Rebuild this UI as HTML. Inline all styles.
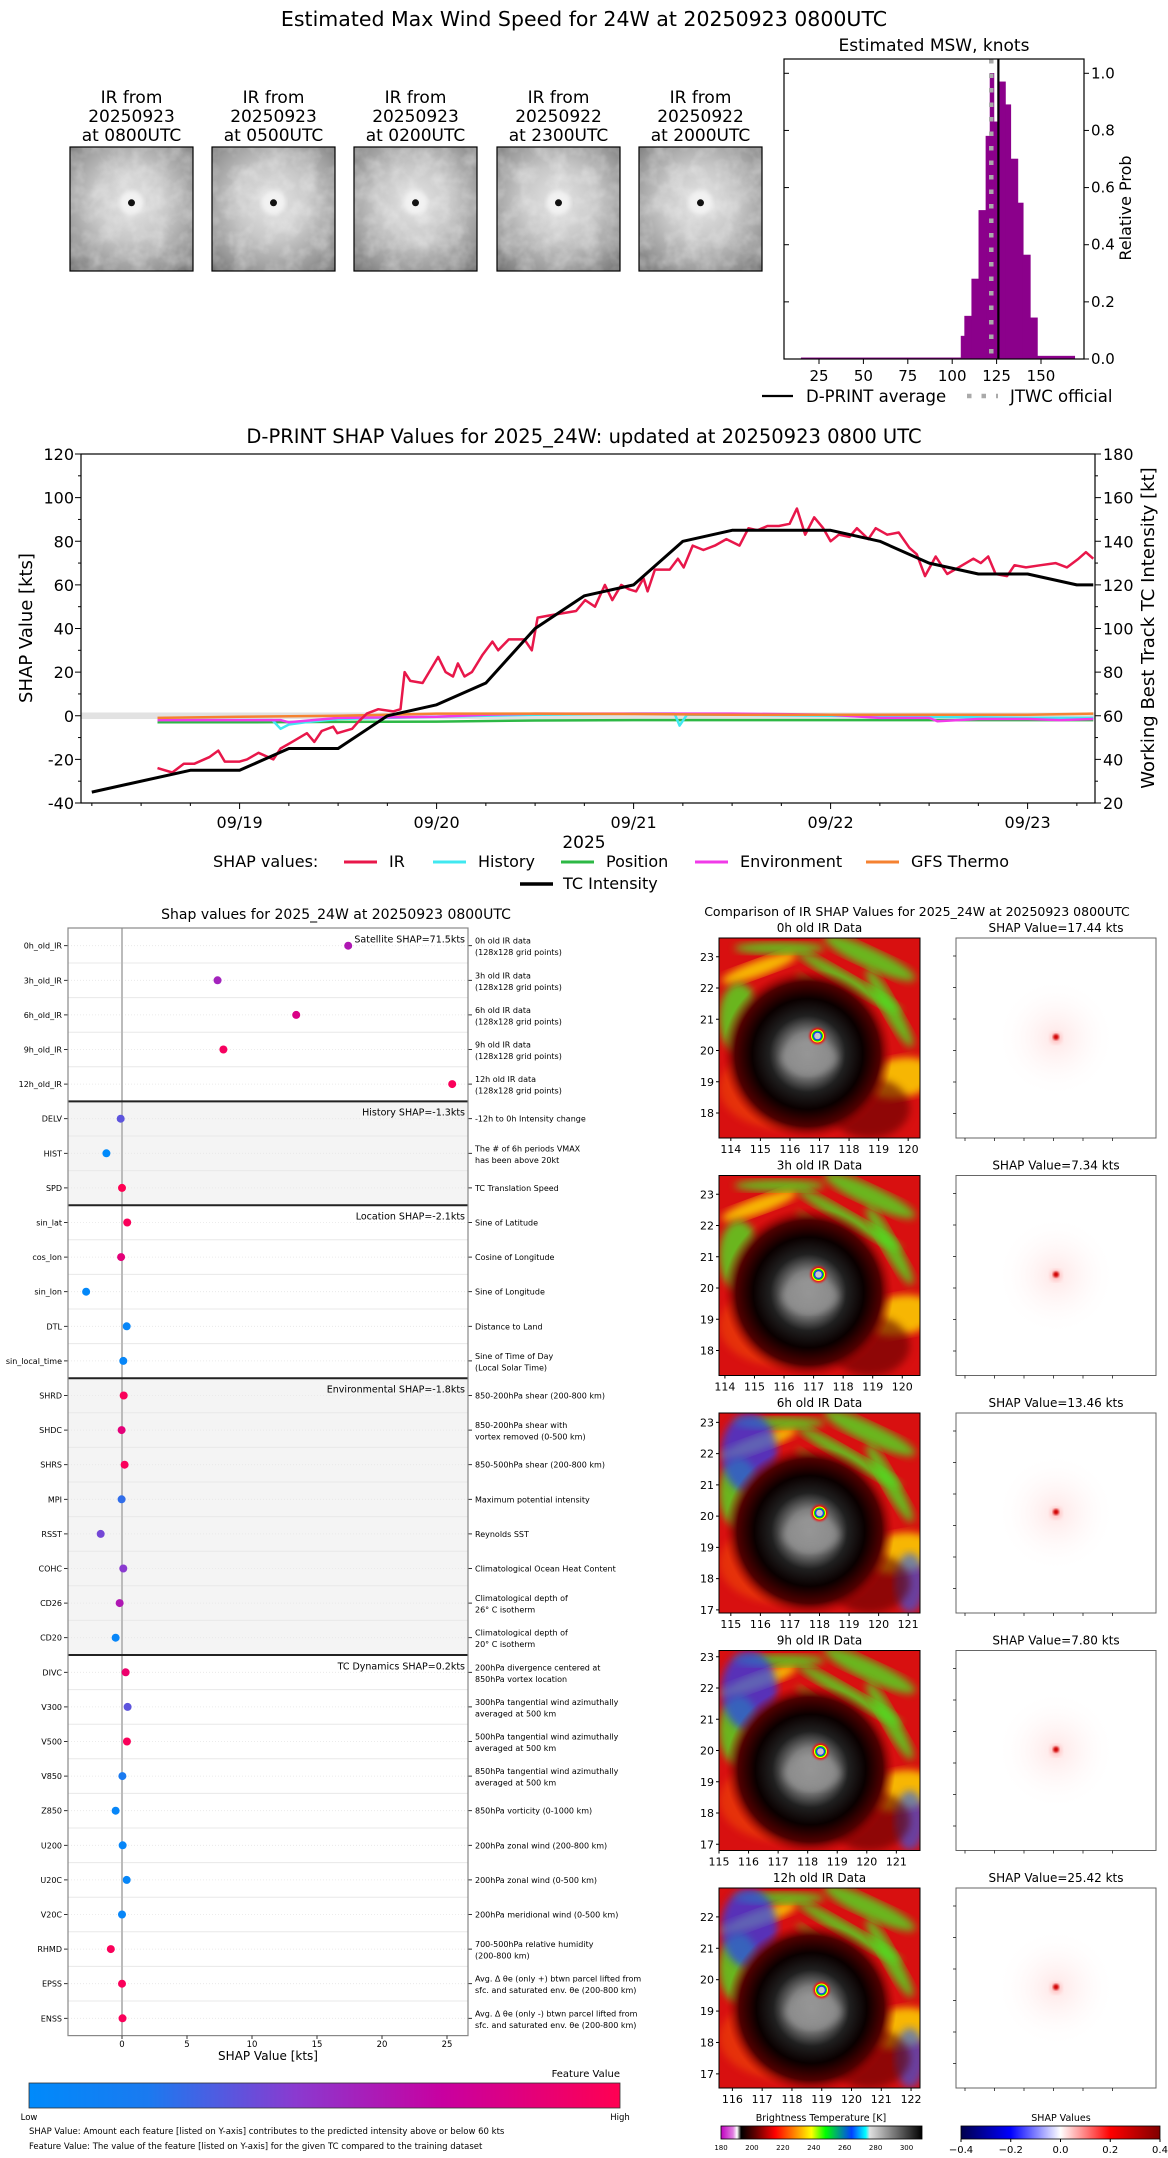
<!DOCTYPE html>
<html><head><meta charset="utf-8">
<style>
html,body{margin:0;padding:0;background:#fff;}
svg{display:block;font-family:"DejaVu Sans","Liberation Sans",sans-serif;}
</style></head>
<body>
<svg id="root" width="1168" height="2158" viewBox="0 0 1168 2158" xmlns="http://www.w3.org/2000/svg">
<defs>
 <linearGradient id="featGrad" x1="0" x2="1" y1="0" y2="0">
  <stop offset="0" stop-color="#008afb"/><stop offset="0.2" stop-color="#1a7af0"/>
  <stop offset="0.45" stop-color="#8a3ad0"/><stop offset="0.7" stop-color="#c800a0"/>
  <stop offset="1" stop-color="#ff0052"/>
 </linearGradient>
 <linearGradient id="btGrad" x1="0" x2="1" y1="0" y2="0">
  <stop offset="0" stop-color="#c000c0"/><stop offset="0.06" stop-color="#e080e0"/>
  <stop offset="0.08" stop-color="#ffffff"/><stop offset="0.1" stop-color="#000000"/>
  <stop offset="0.17" stop-color="#600000"/><stop offset="0.27" stop-color="#ff0000"/>
  <stop offset="0.38" stop-color="#ff9900"/><stop offset="0.45" stop-color="#ffff00"/>
  <stop offset="0.52" stop-color="#00ff00"/><stop offset="0.65" stop-color="#0040ff"/>
  <stop offset="0.72" stop-color="#00ffff"/><stop offset="0.74" stop-color="#e0e0e0"/>
  <stop offset="1" stop-color="#000000"/>
 </linearGradient>
 <linearGradient id="shapGrad" x1="0" x2="1" y1="0" y2="0">
  <stop offset="0" stop-color="#00004c"/><stop offset="0.25" stop-color="#0000ff"/>
  <stop offset="0.5" stop-color="#ffffff"/><stop offset="0.75" stop-color="#ff0000"/>
  <stop offset="1" stop-color="#800000"/>
 </linearGradient>
 <radialGradient id="thumbGrad" cx="0.5" cy="0.45" r="0.75">
  <stop offset="0" stop-color="#e4e4e4"/><stop offset="0.4" stop-color="#c8c8c8"/>
  <stop offset="0.75" stop-color="#9a9a9a"/><stop offset="1" stop-color="#6e6e6e"/>
 </radialGradient>
 <radialGradient id="coreGrad" cx="0.5" cy="0.5" r="0.5">
  <stop offset="0" stop-color="#b0b0b0"/><stop offset="0.25" stop-color="#808080"/>
  <stop offset="0.45" stop-color="#202020"/><stop offset="0.65" stop-color="#0a0000"/>
  <stop offset="0.85" stop-color="#500000"/><stop offset="1" stop-color="#b00000" stop-opacity="0"/>
 </radialGradient>
 <radialGradient id="shapSpot" cx="0.5" cy="0.5" r="0.5">
  <stop offset="0" stop-color="#ffe6e6"/><stop offset="1" stop-color="#ffffff" stop-opacity="0"/>
 </radialGradient>
 <filter id="blur4"><feGaussianBlur stdDeviation="4"/></filter>
 <filter id="blur2"><feGaussianBlur stdDeviation="2"/></filter>
 <filter id="blur1"><feGaussianBlur stdDeviation="1"/></filter>
 <filter id="cloudTex" x="0" y="0" width="1" height="1">
  <feTurbulence type="fractalNoise" baseFrequency="0.06" numOctaves="3" seed="4"/>
  <feColorMatrix type="matrix" values="0 0 0 0 1  0 0 0 0 1  0 0 0 0 1  1.2 0 0 0 -0.45"/>
 </filter>
</defs>
</svg>
<script>
// ---------- DATA ----------
const histEdges = [15,105,107,111,115,119,121.3,123.5,126.4,130,133,137,140,144,148,169];
const histProbs = [0.004,0.08,0.15,0.28,0.52,0.78,1.0,0.83,0.97,0.89,0.70,0.546,0.364,0.144,0.01];
const dprintMean = 126;
const jtwcOfficial = 122;

const irTimes = [-10,-8.2,-6.8,-5.5,-3.7,-2.6,-1.8,0,0.9,2.3,4.1,5,6.4,8.2,9.1,10,11.4,11.9,13.7,14.4,15.5,16.9,18.7,19.6,20.1,20.8,22.3,24.2,25.1,26,26.6,27.4,28.3,29.6,30.8,31.5,32.8,34.7,35.6,36.3,37.8,41,42.1,43.3,44.5,45.4,46.5,47.4,48.3,49.2,49.7,50.6,52.4,53.4,54.1,55.2,56.5,57.9,59.3,60.9,62,63.1,64.3,65.7,67,67.9,68.9,70,71.1,72,73,74.3,75.2,76.6,77.5,78.9,80.3,81.6,82.5,83.5,84.8,86.2,87.6,89.4,90.3,91.2,92.1,93.5,94.4,95.8,97.6,99.4,100.8,102.2,103.1,104];
const irVals = [-24,-26,-22,-22,-19,-16,-21,-21,-20,-17,-20,-15,-12,-8,-12,-7,-5,-8,-6,-3,1,3,2,3,20,16,15,27,20,18,24,18,20,28,34,30,35,35,30,45,46,48,53,50,60,53,60,58,57,63,57,67,67,72,68,78,76,78,81,78,86,85,87,87,88,95,83,91,86,80,83,82,86,81,86,83,84,77,74,64,73,65,68,72,70,73,65,64,69,68,69,70,68,72,75,72];
const historyTimes = [-10,0,4,5,6,8,12,24,36,48,53,53.6,54.5,60,72,84,96,104];
const historyVals = [-2,-2,-2,-6,-4,-3,-1.5,-0.5,0.5,1,1,-4.5,0.5,0.5,0,-0.5,-1,-1];
const positionTimes = [-10,0,12,24,36,48,60,72,84,96,104];
const positionVals = [-3,-3,-2.8,-2.7,-2.2,-2,-2,-2,-2,-2,-2];
const environmentTimes = [-10,0,5,6,12,24,30,36,48,60,72,78,84,85,90,96,100,104];
const environmentVals = [-2,-2,-2,-3,-1,-0.5,0.5,1,1,1,0.5,-1,-1,-2.5,-1.5,-1.5,-2,-1.5];
const gfsTimes = [-10,0,12,24,36,48,60,72,84,96,104];
const gfsVals = [-1,-0.5,0,1,1,0.8,0.5,0.5,0.5,0.5,1];
const tcTimes = [-18,-6,0,6,12,18,24,30,36,42,48,54,60,66,72,78,84,90,96,102,104];
const tcVals = [25,35,35,45,45,60,65,75,100,115,120,140,145,145,145,140,130,125,125,120,120];
const dateLabels = ['09/19','09/20','09/21','09/22','09/23'];

const featureNames = ['0h_old_IR','3h_old_IR','6h_old_IR','9h_old_IR','12h_old_IR','DELV','HIST','SPD','sin_lat','cos_lon','sin_lon','DTL','sin_local_time','SHRD','SHDC','SHRS','MPI','RSST','COHC','CD26','CD20','DIVC','V300','V500','V850','Z850','U200','U20C','V20C','RHMD','EPSS','ENSS'];
const featureShap = [17.4,7.35,13.4,7.8,25.4,-0.1,-1.2,0.0,0.4,-0.07,-2.76,0.36,0.1,0.13,-0.03,0.2,-0.03,-1.64,0.1,-0.18,-0.49,0.28,0.43,0.38,0.03,-0.49,0.05,0.36,0.0,-0.86,0.0,0.04];
const featureVals = [0.6,0.55,0.8,0.95,0.97,0.35,0.0,1.0,0.97,0.85,0.03,0.05,0.05,0.97,0.85,0.97,0.25,0.4,0.45,0.6,0.05,0.9,0.35,0.97,0.2,0.05,0.05,0.05,0.05,0.97,0.97,0.97];
const featureDesc = [
 ['0h old IR data','(128x128 grid points)'],['3h old IR data','(128x128 grid points)'],['6h old IR data','(128x128 grid points)'],['9h old IR data','(128x128 grid points)'],['12h old IR data','(128x128 grid points)'],
 ['-12h to 0h Intensity change'],['The # of 6h periods VMAX','has been above 20kt'],['TC Translation Speed'],
 ['Sine of Latitude'],['Cosine of Longitude'],['Sine of Longitude'],['Distance to Land'],['Sine of Time of Day','(Local Solar Time)'],
 ['850-200hPa shear (200-800 km)'],['850-200hPa shear with','vortex removed (0-500 km)'],['850-500hPa shear (200-800 km)'],['Maximum potential intensity'],['Reynolds SST'],['Climatological Ocean Heat Content'],['Climatological depth of','26° C isotherm'],['Climatological depth of','20° C isotherm'],
 ['200hPa divergence centered at','850hPa vortex location'],['300hPa tangential wind azimuthally','averaged at 500 km'],['500hPa tangential wind azimuthally','averaged at 500 km'],['850hPa tangential wind azimuthally','averaged at 500 km'],['850hPa vorticity (0-1000 km)'],['200hPa zonal wind (200-800 km)'],['200hPa zonal wind (0-500 km)'],['200hPa meridional wind (0-500 km)'],['700-500hPa relative humidity','(200-800 km)'],
 ['Avg. Δ θe (only +) btwn parcel lifted from','sfc. and saturated env. θe (200-800 km)'],['Avg. Δ θe (only -) btwn parcel lifted from','sfc. and saturated env. θe (200-800 km)']];
const groupStarts = [0,5,8,13,21,32];
const groupLabels = ['Satellite SHAP=71.5kts','History SHAP=-1.3kts','Location SHAP=-2.1kts','Environmental SHAP=-1.8kts','TC Dynamics SHAP=0.2kts'];
const shapTicks = [0,5,10,15,20,25];

const thumbLabels = [['IR from','20250923','at 0800UTC'],['IR from','20250923','at 0500UTC'],['IR from','20250923','at 0200UTC'],['IR from','20250922','at 2300UTC'],['IR from','20250922','at 2000UTC']];
const irPanelTitles = ['0h old IR Data','3h old IR Data','6h old IR Data','9h old IR Data','12h old IR Data'];
const irPanelShap = ['17.44','7.34','13.46','7.80','25.42'];
const panelLat = [[17.2,23.6],[17.2,23.6],[16.9,23.3],[16.8,23.2],[16.55,22.92]];
const panelLon = [[113.6,120.4],[113.8,120.6],[114.6,121.4],[115.0,121.8],[115.55,122.3]];
const btTicks = [180,200,220,240,260,280,300];
const shapCbTicks = ['−0.4','−0.2','0.0','0.2','0.4'];

// ---------- HELPERS ----------
const NS='http://www.w3.org/2000/svg';
const root=document.getElementById('root');
function mk(tag,attrs,parent){const e=document.createElementNS(NS,tag);for(const k in attrs)e.setAttribute(k,attrs[k]);(parent||root).appendChild(e);return e;}
function txt(s,x,y,size,anchor,parent,extra){const e=mk('text',Object.assign({x:x,y:y,'font-size':size,'text-anchor':anchor||'start',fill:'#000'},extra||{}),parent);e.textContent=s;return e;}
function grp(parent){return mk('g',{},parent);}

// ---------- TOP TITLE ----------
let t=txt('Estimated Max Wind Speed for 24W at 20250923 0800UTC',584,26,20.5,'middle');



// ---------- THUMBNAILS ----------
const thumbX=[70,212,354,497,639];
for(let i=0;i<5;i++){
 const g=grp();
 
 
 const x=thumbX[i],y=147,w=123,h=124;
 mk('rect',{x:x,y:y,width:w,height:h,fill:'url(#thumbGrad)'},g);
 mk('rect',{x:x,y:y,width:w,height:h,filter:'url(#cloudTex)',opacity:0.55},g);
 mk('circle',{cx:x+w*0.5,cy:y+h*0.45,r:12,fill:'#f2f2f2',filter:'url(#blur2)'},g);
 mk('circle',{cx:x+w*0.5,cy:y+h*0.45,r:3.5,fill:'#111'},g);
 mk('rect',{x:x,y:y,width:w,height:h,fill:'none',stroke:'#000','stroke-width':1.2},g);
 for(let j=0;j<3;j++){txt(thumbLabels[i][j],x+w/2,103+j*19,17,'middle',g);}
}

// ---------- HISTOGRAM ----------
const hx=k=>774.6+1.776*k, hy=p=>359-285.7*p;
const hg=grp();


for(let i=0;i<histProbs.length;i++){
 const b=mk('rect',{x:hx(histEdges[i]),y:hy(histProbs[i]),width:hx(histEdges[i+1])-hx(histEdges[i]),height:hy(0)-hy(histProbs[i]),fill:'#8b008b',stroke:'#8b008b','stroke-width':0.6},hg);
 
 
}
let jl=mk('line',{x1:hx(jtwcOfficial),x2:hx(jtwcOfficial),y1:59,y2:359,stroke:'#aaa','stroke-width':4.5,'stroke-dasharray':'4.5 10'},hg);


let ml=mk('line',{x1:hx(dprintMean),x2:hx(dprintMean),y1:59,y2:359,stroke:'#000','stroke-width':2.2},hg);


mk('rect',{x:784,y:59,width:300,height:300,fill:'none',stroke:'#000','stroke-width':1.2},hg);
for(let k=25;k<=150;k+=25){mk('line',{x1:hx(k),x2:hx(k),y1:359,y2:364,stroke:'#000'},hg);txt(String(k),hx(k),381,15,'middle',hg);}
for(let p=0;p<=1.001;p+=0.2){const yy=hy(p);mk('line',{x1:1084,x2:1089,y1:yy,y2:yy,stroke:'#000'},hg);mk('line',{x1:784,x2:789,y1:yy,y2:yy,stroke:'#000'},hg);txt(p.toFixed(1),1091,yy+5,15,'start',hg);}
txt('Estimated MSW, knots',934,51,17,'middle',hg);
txt('Relative Prob',1131,208,16,'middle',hg,{transform:'rotate(-90 1131 208)'});
const hl=grp();


mk('line',{x1:762,x2:793,y1:396,y2:396,stroke:'#000','stroke-width':2.2},hl);
txt('D-PRINT average',806,402,16.5,'start',hl);
mk('line',{x1:967,x2:998,y1:396,y2:396,stroke:'#aaa','stroke-width':4.5,'stroke-dasharray':'4.5 10'},hl);
txt('JTWC official',1010,402,16.5,'start',hl);

// ---------- TIME SERIES ----------
const X=h=>239.6+h*197/24, YL=v=>803-(v+40)*349/160;
const tg=grp();


txt('D-PRINT SHAP Values for 2025_24W: updated at 20250923 0800 UTC',584,443,19.5,'middle',tg);
mk('rect',{x:81,y:YL(1.5),width:1014,height:YL(-1.5)-YL(1.5),fill:'#e2e2e2'},tg);
function series(ts,vs,off,color,w,name){
 let d='';for(let i=0;i<ts.length;i++){d+=(i?'L':'M')+X(ts[i]).toFixed(1)+','+YL(vs[i]-off).toFixed(1);}
 const p=mk('path',{d:d,fill:'none',stroke:color,'stroke-width':w,'stroke-linejoin':'round'},tg);
 
 
}
series(positionTimes,positionVals,0,'#2db845',2.5,'position-line');
series(historyTimes,historyVals,0,'#40e8f0',2.5,'history-line');
series(environmentTimes,environmentVals,0,'#f03ae8',2.5,'environment-line');
series(gfsTimes,gfsVals,0,'#f58231',2.5,'gfs-thermo-line');
series(irTimes,irVals,0,'#e8174a',2.5,'ir-line');
series(tcTimes,tcVals,60,'#000',3,'tc-intensity-line');
mk('rect',{x:81,y:454,width:1014,height:349,fill:'none',stroke:'#000','stroke-width':1.2},tg);
for(let v=-40;v<=120;v+=10){const yy=YL(v);const major=v%20===0;mk('line',{x1:81-(major?6:3),x2:81,y1:yy,y2:yy,stroke:'#000'},tg);if(major)txt(String(v),74,yy+6,16,'end',tg);}
for(let k=20;k<=180;k+=10){const yy=YL(k-60);const major=k%20===0;mk('line',{x1:1095,x2:1095+(major?6:3),y1:yy,y2:yy,stroke:'#000'},tg);if(major)txt(String(k),1103,yy+6,16,'start',tg);}
for(let h=-18;h<=102;h+=6){const xx=X(h);const major=h%24===0;mk('line',{x1:xx,x2:xx,y1:803,y2:803+(major?6:3),stroke:'#000'},tg);}
for(let i=0;i<dateLabels.length;i++){txt(dateLabels[i],X(i*24),828,16,'middle',tg);}
txt('2025',584,848,17,'middle',tg);
txt('SHAP Value [kts]',32,628,18,'middle',tg,{transform:'rotate(-90 32 628)'});
txt('Working Best Track TC Intensity [kt]',1154,628,18,'middle',tg,{transform:'rotate(-90 1154 628)'});
const lg=grp(tg);


txt('SHAP values:',213,867,16,'start',lg);
const legItems=[['IR','#e8174a',344],['History','#40e8f0',433],['Position','#2db845',561],['Environment','#f03ae8',695],['GFS Thermo','#f58231',866]];
for(const it of legItems){mk('line',{x1:it[2],x2:it[2]+33,y1:862,y2:862,stroke:it[1],'stroke-width':3},lg);txt(it[0],it[2]+45,867,16,'start',lg);}
mk('line',{x1:520,x2:553,y1:884,y2:884,stroke:'#000','stroke-width':3.5},lg);
txt('TC Intensity',563,889,16,'start',lg);

// ---------- SHAP BEESWARM ----------
const SX=v=>122+v*13, RY=i=>945.7+34.6*i;
function featColor(f){
 const stops=[[0,[0,138,251]],[0.2,[26,122,240]],[0.45,[138,58,208]],[0.7,[200,0,160]],[1,[255,0,82]]];
 for(let i=0;i<stops.length-1;i++){if(f<=stops[i+1][0]){const a=stops[i],b=stops[i+1];const u=(f-a[0])/(b[0]-a[0]);return 'rgb('+a[1].map((c,j)=>Math.round(c+(b[1][j]-c)*u)).join(',')+')';}}
 return 'rgb(255,0,82)';
}
const bg=grp();


txt('Shap values for 2025_24W at 20250923 0800UTC',336,919,14,'middle',bg);
for(let g=0;g<5;g++){
 const y0=RY(groupStarts[g])-17.3,y1=RY(groupStarts[g+1])-17.3;
 const r=mk('rect',{x:68,y:y0,width:400,height:y1-y0,fill:(g%2===1)?'#f4f4f4':'#fff'},bg);
 
 
}
for(let i=0;i<featureNames.length;i++){
 const yy=RY(i);
 mk('line',{x1:68,x2:468,y1:yy,y2:yy,stroke:'#e6e6e6','stroke-width':0.8,'stroke-dasharray':'1 2'},bg);
 if(i>0)mk('line',{x1:68,x2:468,y1:yy-17.3,y2:yy-17.3,stroke:'#e8e8e8','stroke-width':1},bg);
}
mk('line',{x1:SX(0),x2:SX(0),y1:928,y2:2035.6,stroke:'#bbb','stroke-width':2},bg);
for(let g=1;g<5;g++){const yy=RY(groupStarts[g])-17.3;mk('line',{x1:68,x2:468,y1:yy,y2:yy,stroke:'#222','stroke-width':2},bg);}
for(let g=0;g<5;g++){txt(groupLabels[g],465,RY(groupStarts[g])-3,9.5,'end',bg);}
for(let i=0;i<featureNames.length;i++){
 const yy=RY(i);
 const d=mk('circle',{cx:SX(featureShap[i]),cy:yy,r:4,fill:featColor(featureVals[i])},bg);
 
 
 txt(featureNames[i],62,yy+3,8,'end',bg);
 mk('line',{x1:64,x2:68,y1:yy,y2:yy,stroke:'#000','stroke-width':0.8},bg);
 mk('line',{x1:468,x2:472,y1:yy,y2:yy,stroke:'#000','stroke-width':0.8},bg);
 const ds=featureDesc[i];
 if(ds.length===1)txt(ds[0],475,yy+3,8,'start',bg);
 else{txt(ds[0],475,yy-2,8,'start',bg);txt(ds[1],475,yy+9.5,8,'start',bg);}
}
mk('rect',{x:68,y:928,width:400,height:1107.6,fill:'none',stroke:'#888','stroke-width':1.2},bg);
for(const tk of shapTicks){mk('line',{x1:SX(tk),x2:SX(tk),y1:2035.6,y2:2039,stroke:'#000','stroke-width':0.8},bg);txt(String(tk),SX(tk),2047,8.5,'middle',bg);}
txt('SHAP Value [kts]',268,2060,12,'middle',bg);
const fc=grp();


mk('rect',{x:29,y:2083,width:591,height:25,fill:'url(#featGrad)',stroke:'#333','stroke-width':0.8},fc);
txt('Feature Value',620,2077,10,'end',fc);
txt('Low',29,2120,8.5,'middle',fc);
txt('High',620,2120,8.5,'middle',fc);
txt('SHAP Value: Amount each feature [listed on Y-axis] contributes to the predicted intensity above or below 60 kts',29,2134,8.5,'start',fc);
txt('Feature Value: The value of the feature [listed on Y-axis] for the given TC compared to the training dataset',29,2149,8.5,'start',fc);

// ---------- IR PANELS ----------
const pg=grp();


txt('Comparison of IR SHAP Values for 2025_24W at 20250923 0800UTC',917,916,12.5,'middle',pg);
const panelTop=[938,1175.5,1413,1650.5,1888];
for(let i=0;i<5;i++){
 const x=719,y=panelTop[i],w=201,h=200;
 const g=grp(pg);
 
 
 mk('clipPath',{id:'clip'+i},g);
 const cp=g.lastChild; mk('rect',{x:x,y:y,width:w,height:h},cp);
 const ig=mk('g',{'clip-path':'url(#clip'+i+')'},g);
 mk('rect',{x:x,y:y,width:w,height:h,fill:'#d81010'},ig);
 const ex=x+w*(0.49+i*0.005),ey=y+h*(0.49+i*0.005);
 const greens=[[0.75,0.1,50,10,25],[0.85,0.35,45,8,60],[0.2,0.15,40,8,-20],[0.1,0.4,20,35,0],[0.65,0.22,60,7,30],[0.9,0.7,20,35,80],[0.3,0.05,45,6,0],[0.55,0.3,40,5,35]];
 for(let k=0;k<greens.length;k++){const gg=greens[k];const cx=x+w*gg[0],cy=y+h*gg[1];mk('ellipse',{cx:cx,cy:cy,rx:gg[2],ry:gg[3],fill:(k%3===2)?'#ffe000':'#50e020',opacity:0.8,filter:'url(#blur4)',transform:'rotate('+(gg[4])+' '+cx+' '+cy+')'},ig);}
 if(i>=2){mk('ellipse',{cx:x+w*0.15,cy:y+h*0.2,rx:28,ry:40,fill:'#2040ff',opacity:0.7,filter:'url(#blur4)'},ig);mk('ellipse',{cx:x+w*0.95,cy:y+h*0.85,rx:15,ry:30,fill:'#2060ff',opacity:0.6,filter:'url(#blur4)'},ig);}
 mk('ellipse',{cx:x+w*0.3,cy:y+h*0.75,rx:60,ry:40,fill:'#ff7000',opacity:0.35,filter:'url(#blur4)'},ig);
 mk('ellipse',{cx:x+w*0.75,cy:y+h*0.85,rx:40,ry:30,fill:'#600000',opacity:0.6,filter:'url(#blur4)'},ig);
 mk('circle',{cx:ex-10,cy:ey+18,r:85,fill:'url(#coreGrad)'},ig);
 mk('ellipse',{cx:ex-8,cy:ey+22,rx:28,ry:16,fill:'#909090',opacity:0.8,filter:'url(#blur4)'},ig);
 mk('circle',{cx:ex,cy:ey,r:8,fill:'#ff0000',filter:'url(#blur1)'},ig);
 mk('circle',{cx:ex,cy:ey,r:6.5,fill:'#ffff00'},ig);
 mk('circle',{cx:ex,cy:ey,r:5.5,fill:'#00e000'},ig);
 mk('circle',{cx:ex,cy:ey,r:4.5,fill:'#1030ff'},ig);
 mk('circle',{cx:ex,cy:ey,r:3.3,fill:'#c8c8c8'},ig);
 mk('rect',{x:x,y:y,width:w,height:h,fill:'none',stroke:'#000','stroke-width':1},g);
 txt(irPanelTitles[i],x+w/2,y-6,12,'middle',g);
 const la=panelLat[i],lo=panelLon[i];
 for(let v=Math.ceil(la[0]);v<=la[1];v++){const yy=y+h*(la[1]-v)/(la[1]-la[0]);mk('line',{x1:x-3,x2:x,y1:yy,y2:yy,stroke:'#000'},g);txt(String(v),x-5,yy+4,11,'end',g);}
 for(let v=Math.ceil(lo[0]);v<=lo[1];v++){const xx=x+w*(v-lo[0])/(lo[1]-lo[0]);mk('line',{x1:xx,x2:xx,y1:y+h,y2:y+h+3,stroke:'#000'},g);txt(String(v),xx,y+h+15,11,'middle',g);}
 // shap map
 const sx=956,sg=grp(pg);
 
 
 mk('rect',{x:sx,y:y,width:h,height:h,fill:'#fff'},sg);
 mk('circle',{cx:sx+100,cy:y+100,r:60,fill:'url(#shapSpot)'},sg);
 mk('circle',{cx:sx+100,cy:y+100,r:6,fill:'#ffc8c8',filter:'url(#blur2)'},sg);
 mk('circle',{cx:sx+100,cy:y+99,r:3,fill:'#d00000',filter:'url(#blur1)'},sg);
 mk('rect',{x:sx,y:y,width:h,height:h,fill:'none',stroke:'#666','stroke-width':1},sg);
 txt('SHAP Value='+irPanelShap[i]+' kts',sx+100,y-6,12,'middle',sg);
 for(let k=0;k<6;k++){mk('line',{x1:sx-3,x2:sx,y1:y+18+k*31.5,y2:y+18+k*31.5,stroke:'#000','stroke-width':0.7},sg);mk('line',{x1:sx+9+k*29.5,x2:sx+9+k*29.5,y1:y+h,y2:y+h+3,stroke:'#000','stroke-width':0.7},sg);}
}
// colorbars
const bc=grp(pg);


mk('rect',{x:721,y:2126,width:201,height:13,fill:'url(#btGrad)',stroke:'#000','stroke-width':0.8},bc);
txt('Brightness Temperature [K]',821,2121,9.5,'middle',bc);
for(const v of btTicks){const xx=721+201*(v-180)/130;txt(String(v),xx,2150,7,'middle',bc);}
const scb=grp(pg);


mk('rect',{x:961,y:2126,width:199,height:13,fill:'url(#shapGrad)',stroke:'#000','stroke-width':0.8},scb);
txt('SHAP Values',1061,2121,9.5,'middle',scb);
for(let k=0;k<shapCbTicks.length;k++){const xx=961+199*k/4;mk('line',{x1:xx,x2:xx,y1:2139,y2:2142,stroke:'#000'},scb);txt(shapCbTicks[k],xx,2153,10,'middle',scb);}
</script>
</body></html>
